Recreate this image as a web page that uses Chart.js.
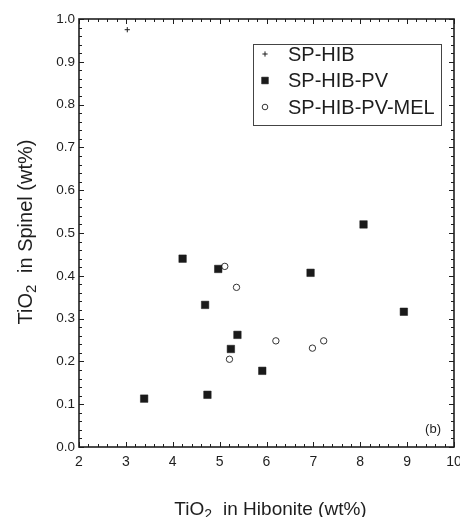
<!DOCTYPE html>
<html>
<head>
<meta charset="utf-8">
<script src="https://cdn.jsdelivr.net/npm/chart.js@4/dist/chart.umd.min.js"></script>
<style>
  html, body { margin: 0; padding: 0; background: #fff; overflow: hidden; }
  #wrap { width: 460px; height: 517px; overflow: hidden; }
  #wrap canvas { display: block; }
</style>
</head>
<body>
<div id="wrap"><canvas id="chart" width="480" height="517"></canvas></div>
<script>
// TiO2 in hibonite (x) vs TiO2 in spinel (y), wt%
const spHibX = [3.03];
const spHibY = [0.975];

const spHibPvX = [3.39, 4.74, 8.07, 4.21, 4.97, 6.94, 4.69, 8.93, 5.38, 5.24, 5.91];
const spHibPvY = [0.113, 0.122, 0.52, 0.44, 0.416, 0.407, 0.332, 0.316, 0.262, 0.229, 0.178];

const spHibPvMelX = [5.11, 5.36, 6.20, 7.22, 6.98, 5.21];
const spHibPvMelY = [0.422, 0.373, 0.248, 0.248, 0.231, 0.205];

const seriesNames = ['SP-HIB', 'SP-HIB-PV', 'SP-HIB-PV-MEL'];
// axis titles split around the subscript 2
const xTitle = ['TiO', '2', 'in Hibonite (wt%)'];
const yTitle = ['TiO', '2', 'in Spinel (wt%)'];
const panelLabel = '(b)';

const FONT = '"Liberation Sans", Arial, Helvetica, sans-serif';
const INK = '#1e1e1e';

function toPoints(xs, ys) {
  return xs.map((x, i) => ({ x: x, y: ys[i] }));
}

// "TiO" + subscript "2" + rest, centred on (cx, cy)
function drawTitle(ctx, parts, cx, cy, rotation, size) {
  const big = size + 'px ' + FONT, small = Math.round(size * 0.74) + 'px ' + FONT;
  const gap = size * 0.58;
  ctx.save();
  ctx.translate(cx, cy);
  ctx.rotate(rotation);
  ctx.font = big;
  const w0 = ctx.measureText(parts[0]).width;
  const w2 = ctx.measureText(parts[2]).width;
  ctx.font = small;
  const w1 = ctx.measureText(parts[1]).width;
  const total = w0 + w1 + gap + w2;
  let x = -total / 2;
  ctx.fillStyle = INK;
  ctx.textAlign = 'left';
  ctx.textBaseline = 'alphabetic';
  ctx.font = big;
  ctx.fillText(parts[0], x, 7);
  x += w0;
  ctx.font = small;
  ctx.fillText(parts[1], x, 11);
  x += w1 + gap;
  ctx.font = big;
  ctx.fillText(parts[2], x, 7);
  ctx.restore();
}

// frame with inward major/minor ticks on all four sides, legend, titles
const framePlugin = {
  id: 'frame',
  afterDraw(chart) {
    const ctx = chart.ctx;
    const a = chart.chartArea;
    const xs = chart.scales.x;
    const ys = chart.scales.y;
    ctx.save();
    ctx.strokeStyle = INK;
    ctx.lineWidth = 1;
    ctx.beginPath();
    for (let i = 0; i <= 40; i++) {
      const v = 2 + i * 0.2;
      const len = i % 5 === 0 ? 5 : 3;
      const px = Math.round(xs.getPixelForValue(v)) + 0.5;
      ctx.moveTo(px, a.bottom); ctx.lineTo(px, a.bottom - len);
      ctx.moveTo(px, a.top); ctx.lineTo(px, a.top + len);
    }
    for (let i = 0; i <= 50; i++) {
      const v = i * 0.02;
      const len = i % 5 === 0 ? 5 : 3;
      const py = Math.round(ys.getPixelForValue(v)) + 0.5;
      ctx.moveTo(a.left, py); ctx.lineTo(a.left + len, py);
      ctx.moveTo(a.right, py); ctx.lineTo(a.right - len, py);
    }
    ctx.stroke();
    ctx.lineWidth = 1.6;
    ctx.strokeRect(a.left, a.top, a.right - a.left, a.bottom - a.top);

    // panel label
    ctx.fillStyle = INK;
    ctx.font = '13px ' + FONT;
    ctx.textAlign = 'right';
    ctx.textBaseline = 'middle';
    ctx.fillText(panelLabel, a.right - 13, a.bottom - 18);

    // legend box inside the plot
    const bx = a.left + 174, by = a.top + 25, bw = 188, bh = 81;
    ctx.lineWidth = 1;
    ctx.strokeStyle = '#444';
    ctx.strokeRect(bx + 0.5, by + 0.5, bw, bh);
    ctx.font = '20px ' + FONT;
    ctx.textAlign = 'left';
    chart.data.datasets.forEach((ds, i) => {
      const cy = by + 10 + i * 26.5;
      ctx.fillStyle = ds.backgroundColor;
      ctx.strokeStyle = ds.borderColor;
      ctx.lineWidth = ds.borderWidth;
      Chart.helpers.drawPoint(ctx, {
        pointStyle: ds.pointStyle,
        radius: ds.legendRadius,
        rotation: 0,
        borderWidth: ds.borderWidth
      }, bx + 12, cy);
      ctx.fillStyle = INK;
      ctx.fillText(ds.label, bx + 35, cy + 1);
    });
    ctx.restore();

    // axis titles
    drawTitle(ctx, xTitle, (a.left + a.right) / 2 + 4, 508, 0, 19);
    drawTitle(ctx, yTitle, 25, (a.top + a.bottom) / 2 - 1, -Math.PI / 2, 20);
  }
};

new Chart(document.getElementById('chart'), {
  type: 'scatter',
  data: {
    datasets: [
      {
        label: seriesNames[0],
        data: toPoints(spHibX, spHibY),
        pointStyle: 'cross',
        pointRadius: 2.6,
        legendRadius: 2.6,
        borderColor: INK,
        backgroundColor: INK,
        borderWidth: 1
      },
      {
        label: seriesNames[1],
        data: toPoints(spHibPvX, spHibPvY),
        pointStyle: 'rect',
        pointRadius: 5.3,
        legendRadius: 4.8,
        borderColor: '#1a1a1a',
        backgroundColor: '#1a1a1a',
        borderWidth: 0.5
      },
      {
        label: seriesNames[2],
        data: toPoints(spHibPvMelX, spHibPvMelY),
        pointStyle: 'circle',
        pointRadius: 3.2,
        legendRadius: 2.8,
        borderColor: '#333',
        backgroundColor: '#fff',
        borderWidth: 1
      }
    ]
  },
  options: {
    responsive: false,
    animation: false,
    layout: { padding: { top: 19, right: 26, bottom: 0, left: 0 } },
    plugins: {
      legend: { display: false },
      tooltip: { enabled: false }
    },
    scales: {
      x: {
        type: 'linear',
        min: 2,
        max: 10,
        grid: { display: false, drawTicks: false },
        border: { display: false },
        ticks: {
          stepSize: 1,
          padding: 7,
          color: INK,
          font: { family: FONT, size: 14 }
        },
        afterFit(scale) { scale.height = 70; }
      },
      y: {
        type: 'linear',
        min: 0,
        max: 1,
        grid: { display: false, drawTicks: false },
        border: { display: false },
        ticks: {
          stepSize: 0.1,
          padding: 4,
          color: INK,
          font: { family: FONT, size: 13.5 },
          callback: (v) => Number(v).toFixed(1)
        },
        afterFit(scale) { scale.width = 79; }
      }
    }
  },
  plugins: [framePlugin]
});
</script>
</body>
</html>
